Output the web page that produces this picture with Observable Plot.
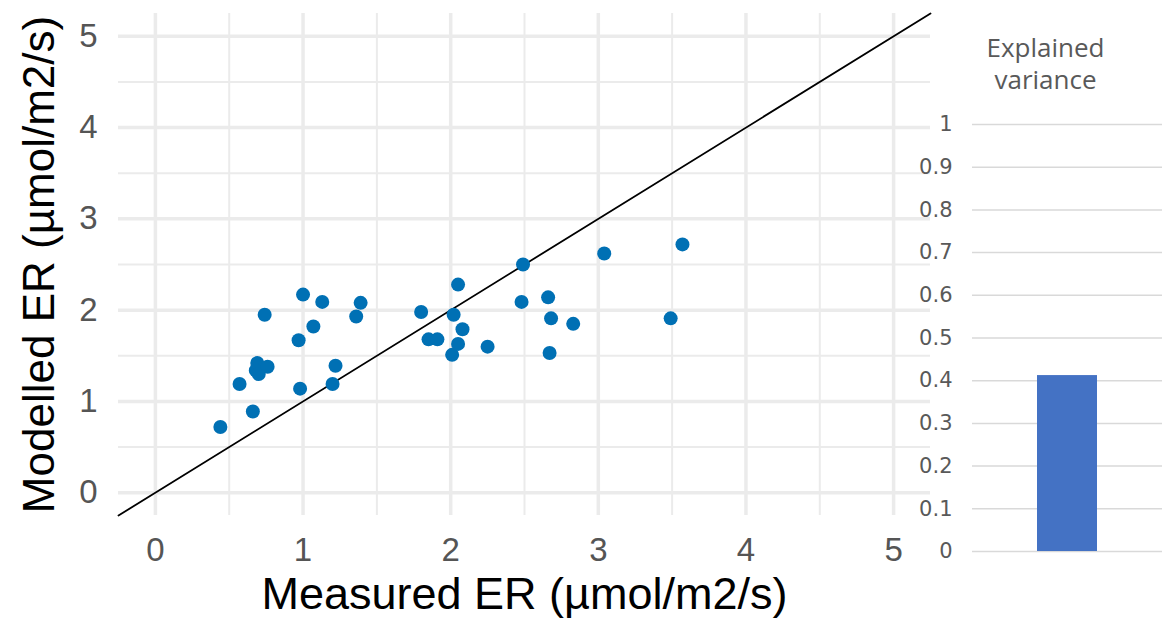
<!DOCTYPE html>
<html>
<head>
<meta charset="utf-8">
<script src="https://cdn.jsdelivr.net/npm/d3@7"></script>
<script src="https://cdn.jsdelivr.net/npm/@observablehq/plot@0.6"></script>
<style>
  html, body { margin: 0; padding: 0; background: white; }
  #wrap { position: relative; width: 1167px; height: 624px; overflow: hidden; background: white; }
  #main { position: absolute; left: 0; top: 0; }
  #side { position: absolute; left: 900px; top: 0; }
</style>
</head>
<body>
<div id="wrap">
  <div id="main"></div>
  <div id="side"></div>
</div>
<script>
// ---- data ----
const measured = [0.44, 0.57, 0.66, 0.69, 0.68, 0.70, 0.76, 0.74, 0.97, 0.98, 1.00, 1.07, 1.13, 1.22, 1.20, 1.36, 1.39,
                  1.80, 1.85, 1.91, 2.01, 2.02, 2.05, 2.08, 2.05, 2.25, 2.49, 2.48, 2.66, 2.68, 2.67, 2.83, 3.04, 3.57, 3.49];
const modelled = [0.72, 1.19, 0.89, 1.42, 1.34, 1.30, 1.38, 1.95, 1.67, 1.14, 2.17, 1.82, 2.09, 1.39, 1.19, 1.93, 2.08,
                  1.98, 1.68, 1.68, 1.51, 1.95, 1.63, 1.79, 2.28, 1.60, 2.50, 2.09, 2.14, 1.91, 1.53, 1.85, 2.62, 2.72, 1.91];
const axisDomain = [-0.25, 5.25];
const majorTicks = [0, 1, 2, 3, 4, 5];
const minorTicks = [-0.5, 0.5, 1.5, 2.5, 3.5, 4.5];
const identityLine = [-0.25, 5.25];
const xTitle = "Measured ER (µmol/m2/s)";
const yTitle = "Modelled ER (µmol/m2/s)";

const varCategories = ["Explained variance"];
const varValues = [0.412];
const varTicks = [0, 0.1, 0.2, 0.3, 0.4, 0.5, 0.6, 0.7, 0.8, 0.9, 1];
const varTitle = "Explained\nvariance";

// ---- tables ----
const points = measured.map((m, i) => ({measured: m, modelled: modelled[i]}));
const minorIn = minorTicks.filter(t => t > axisDomain[0] && t < axisDomain[1]);
const varData = varCategories.map((c, i) => ({label: c, value: varValues[i]}));

const mainFont = "'Liberation Sans', Arial, sans-serif";

const main = Plot.plot({
  width: 940,
  height: 624,
  marginLeft: 118,
  marginRight: 10,
  marginTop: 13,
  marginBottom: 109,
  x: {domain: axisDomain},
  y: {domain: axisDomain},
  style: {background: "transparent", fontFamily: mainFont, fontSize: "32px", overflow: "visible"},
  marks: [
    Plot.ruleX(minorIn, {stroke: "#ebebeb", strokeWidth: 2}),
    Plot.ruleY(minorIn, {stroke: "#ebebeb", strokeWidth: 2}),
    Plot.ruleX(majorTicks, {stroke: "#ebebeb", strokeWidth: 3.5}),
    Plot.ruleY(majorTicks, {stroke: "#ebebeb", strokeWidth: 3.5}),
    Plot.line(identityLine, {x: d => d, y: d => d, stroke: "black", strokeWidth: 1.8}),
    Plot.dot(points, {x: "measured", y: "modelled", r: 7, fill: "#0070B4", stroke: "none"}),
    Plot.axisX(majorTicks, {tickSize: 0, tickPadding: 22, fontSize: 33, color: "#555", label: null, tickFormat: d => String(d)}),
    Plot.axisY(majorTicks, {tickSize: 0, tickPadding: 21, fontSize: 33, color: "#555", label: null, tickFormat: d => String(d)}),
    Plot.text([xTitle], {text: d => d, frameAnchor: "bottom", lineAnchor: "middle", textAnchor: "middle", dy: 79, fontSize: 45, fill: "black"}),
    Plot.text([yTitle], {text: d => d, frameAnchor: "left", lineAnchor: "middle", textAnchor: "middle", dx: -79, rotate: -90, fontSize: 44, fill: "black"})
  ]
});
document.getElementById("main").appendChild(main);

const side = Plot.plot({
  width: 267,
  height: 624,
  marginLeft: 72,
  marginRight: 5,
  marginTop: 124,
  marginBottom: 73,
  x: {domain: varCategories, padding: 0.52, axis: null},
  y: {domain: [0, 1], axis: null},
  style: {background: "transparent", fontFamily: "'DejaVu Sans', sans-serif", fontSize: "21px", overflow: "visible"},
  marks: [
    Plot.ruleY(varTicks, {stroke: "#d9d9d9", strokeWidth: 1.5}),
    Plot.barY(varData, {x: "label", y: "value", fill: "#4472C4"}),
    Plot.axisY(varTicks, {tickSize: 0, tickPadding: 20, fontSize: 21, color: "#595959", label: null, tickFormat: d => String(d)}),
    Plot.text([varTitle], {text: d => d, frameAnchor: "top", lineAnchor: "top", dy: -91, dx: -22, fontSize: 26, lineHeight: 1.25, fill: "#595959", fontFamily: "'Open Sans', sans-serif"})
  ]
});
document.getElementById("side").appendChild(side);
</script>
</body>
</html>
